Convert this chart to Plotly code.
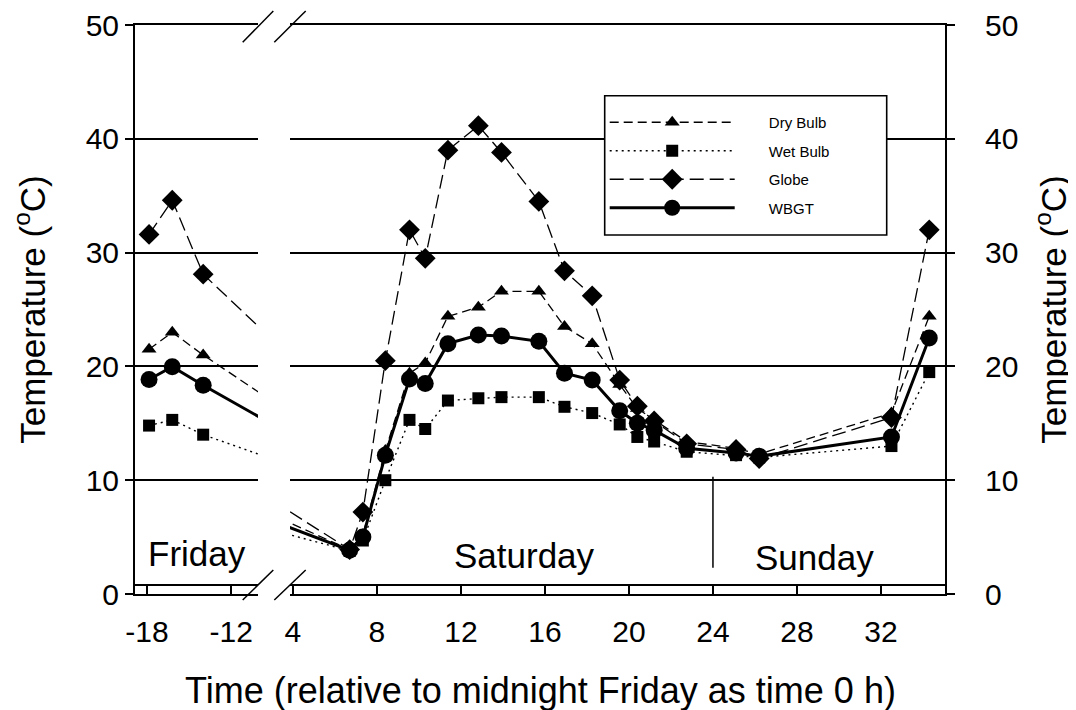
import plotly.graph_objects as go

# ---- data (time in h relative to midnight Friday; temperature in °C) ----
time_h = [-17.85, -16.2, -14.0,
          6.7, 7.33, 8.4, 9.55, 10.3, 11.38, 12.83, 13.93, 15.71, 16.93, 18.25,
          19.56, 20.4, 21.2, 22.75, 25.1, 26.2, 32.5, 34.3]
dry_bulb = [21.5, 23.0, 21.0,
            3.9, 5.2, 12.6, 19.4, 20.3, 24.4, 25.2, 26.6, 26.6, 23.5, 22.0,
            18.4, 16.3, 15.3, 13.4, 12.8, 12.3, 15.9, 24.4]
wet_bulb = [14.8, 15.3, 14.0,
            3.8, 4.7, 10.0, 15.3, 14.5, 17.0, 17.2, 17.3, 17.3, 16.45, 15.9,
            14.9, 13.8, 13.4, 12.5, 12.2, 12.0, 13.0, 19.5]
globe = [31.6, 34.6, 28.1,
         3.9, 7.2, 20.5, 32.0, 29.5, 39.0, 41.15, 38.8, 34.5, 28.4, 26.2,
         18.8, 16.5, 15.2, 13.2, 12.7, 11.9, 15.5, 32.0]
wbgt = [18.85, 19.97, 18.35,
        3.85, 5.0, 12.2, 18.9, 18.5, 22.0, 22.75, 22.67, 22.2, 19.4, 18.8,
        16.1, 15.0, 14.4, 12.8, 12.4, 12.1, 13.8, 22.5]

series_names = ["Dry Bulb", "Wet Bulb", "Globe", "WBGT"]
series_values = [dry_bulb, wet_bulb, globe, wbgt]

x_ticks_left = [-18, -12]
x_ticklabels_left = ["-18", "-12"]
x_ticks_right = [4, 8, 12, 16, 20, 24, 28, 32]
y_ticks = [0, 10, 20, 30, 40, 50]

day_labels = ["Friday", "Saturday", "Sunday"]
day_label_x = [-14.42, 15.03, 28.84]
day_label_axis = ["x", "x2", "x2"]
day_label_yaxis = ["y", "y2", "y2"]
day_label_y = [3.6, 3.4, 3.2]

# ---- styles ----
styles = {
    "Dry Bulb": dict(dash="9px,5px", width=1.3, symbol="triangle-up", size=13),
    "Wet Bulb": dict(dash="2px,4px", width=1.4, symbol="square", size=12),
    "Globe": dict(dash="14px,6px", width=1.3, symbol="diamond", size=16),
    "WBGT": dict(dash="solid", width=3, symbol="circle", size=17),
}

FONT = "Liberation Sans, Arial, sans-serif"
# the page body has an 8px margin; the figure is sized to fill the window
OFF = 8
W, H = 1076 - OFF, 710 - OFF
PL, PR, PT, PB = 135, 945, 25, 594      # plot-area edges in window pixels
L, R, T, B = PL - OFF, (1076 - PR), PT - OFF, (710 - PB)
pw = W - L - R
ph = H - T - B

def px_x(p):
    return (p - OFF - L) / pw

def px_y(p):
    return (H - B - (p - OFF)) / ph

left_dom = [0, px_x(258)]
right_dom = [px_x(290), 1]

NB = "\u00a0"

fig = go.Figure()
for name, vals in zip(series_names, series_values):
    st = styles[name]
    for xa, ya, show in (("x", "y", True), ("x2", "y2", False)):
        fig.add_trace(go.Scatter(
            x=time_h, y=vals, name=NB * 7 + name, xaxis=xa, yaxis=ya,
            mode="lines+markers", showlegend=show, legendgroup=name,
            line=dict(color="black", width=st["width"], dash=st["dash"]),
            marker=dict(color="black", symbol=st["symbol"], size=st["size"],
                        line=dict(width=0)),
        ))

axis_common = dict(showline=True, linecolor="black", linewidth=2,
                   tickcolor="black", tickwidth=2, zeroline=False,
                   automargin=False,
                   tickfont=dict(family=FONT, size=30, color="black"))

grid = dict(showgrid=True, gridcolor="black", gridwidth=1.6)

fig.update_layout(
    width=W, height=H,
    margin=dict(l=L, r=R, t=T, b=B, autoexpand=False),
    paper_bgcolor="white", plot_bgcolor="white",
    font=dict(family=FONT, color="black"),
    xaxis=dict(domain=left_dom, range=[-18.85, -10.1], anchor="y",
               tickvals=x_ticks_left, ticktext=x_ticklabels_left,
               ticks="inside", ticklen=9,
               mirror=True, showgrid=False, ticklabelstandoff=10,
               **axis_common),
    xaxis2=dict(domain=right_dom, range=[3.86, 35.05], anchor="y2",
                tickvals=x_ticks_right, ticks="inside", ticklen=9,
                mirror=True, showgrid=False, ticklabelstandoff=10,
                **axis_common),
    yaxis=dict(range=[0, 50], anchor="x", side="left", tickvals=y_ticks,
               ticks="outside", ticklen=8, **grid,
               title=dict(text="Temperature (<sup>o</sup>C)", standoff=30,
                          font=dict(family=FONT, size=35, color="black")),
               **axis_common),
    yaxis2=dict(range=[0, 50], anchor="x2", side="right",
                tickvals=y_ticks, ticks="outside", ticklen=8, **grid,
                ticklabelstandoff=24,
                title=dict(text="Temperature (<sup>o</sup>C)", standoff=24,
                           font=dict(family=FONT, size=35, color="black")),
                **axis_common),
    legend=dict(x=px_x(604.7), y=px_y(106), xanchor="left", yanchor="top",
                bgcolor="rgba(0,0,0,0)", bordercolor="rgba(0,0,0,0)",
                borderwidth=0, itemwidth=125, tracegroupgap=6,
                font=dict(family=FONT, size=15, color="black")),
    showlegend=True,
)

# legend frame (white box covering the grid line behind the legend)
fig.add_shape(type="rect", xref="paper", yref="paper",
              x0=px_x(604.7), x1=px_x(886.7), y0=px_y(235), y1=px_y(95.7),
              line=dict(color="black", width=1.6), fillcolor="white",
              layer="above")

# x-axis title as annotation centred under both panels
fig.add_annotation(text="Time (relative to midnight Friday as time 0 h)",
                   xref="paper", yref="paper", x=px_x(540), y=px_y(690),
                   showarrow=False, xanchor="center", yanchor="middle",
                   font=dict(family=FONT, size=36, color="black"))

# day labels
for txt, xv, ax, ya, yv in zip(day_labels, day_label_x, day_label_axis,
                               day_label_yaxis, day_label_y):
    fig.add_annotation(text=txt, x=xv, y=yv, xref=ax, yref=ya,
                       showarrow=False, xanchor="center", yanchor="middle",
                       font=dict(family=FONT, size=35, color="black"))

# midnight Saturday/Sunday marker
fig.add_shape(type="line", xref="x2", yref="y2", x0=24, x1=24, y0=2.3, y1=10.3,
              line=dict(color="black", width=1.5))

# inner frame line just above the x axis in each panel
for ax in ("x", "x2"):
    fig.add_shape(type="line", xref=f"{ax} domain", yref="paper", x0=0, x1=1,
                  y0=px_y(585), y1=px_y(585), line=dict(color="black", width=1.8))

# axis-break marks (double slashes) at top and bottom
for (y_lo, y_hi) in ((42.3, 11), (600, 570)):
    for (x_lo, x_hi) in ((242.7, 273.3), (274.3, 305.7)):
        fig.add_shape(type="line", xref="paper", yref="paper",
                      x0=px_x(x_lo), y0=px_y(y_lo), x1=px_x(x_hi), y1=px_y(y_hi),
                      line=dict(color="black", width=1.5))

fig.write_html("out.html")
